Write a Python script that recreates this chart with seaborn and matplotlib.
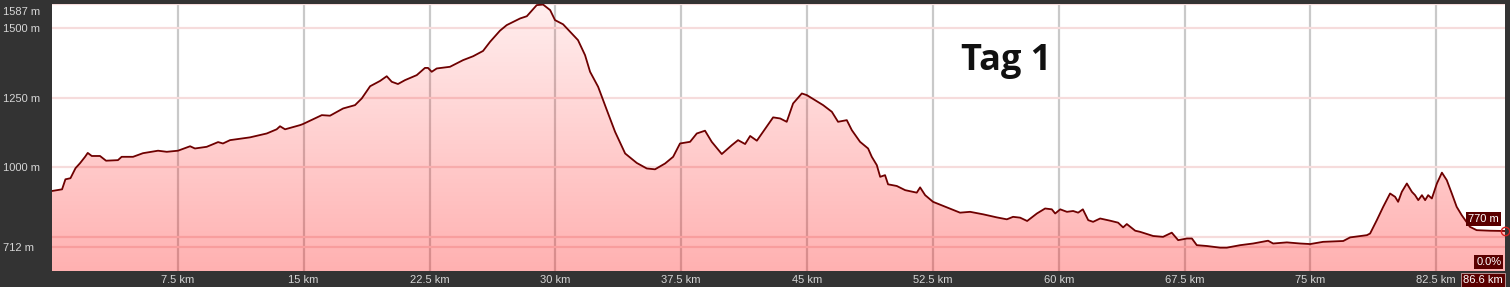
import numpy as np
import pandas as pd
import matplotlib
matplotlib.use("Agg")
import matplotlib.pyplot as plt
import matplotlib.transforms as mtransforms
import seaborn as sns

# ---------------- data ----------------
dist_km = [0.0, 0.6, 0.8, 1.1, 1.4, 1.67, 1.97, 2.13, 2.37, 2.86, 3.22, 3.93, 4.15, 4.83,
           5.42, 6.32, 6.84, 7.51, 8.23, 8.52, 9.22, 9.90, 10.19, 10.61, 11.80, 12.80,
           13.39, 13.59, 13.89, 14.78, 14.96, 16.08, 16.57, 17.35, 18.06, 18.46, 18.96,
           19.55, 19.95, 20.25, 20.62, 21.04, 21.74, 22.23, 22.41, 22.63, 22.93, 23.72,
           24.50, 25.10, 25.69, 26.11, 26.70, 27.10, 27.90, 28.30, 28.89, 29.27, 29.69,
           29.98, 30.46, 30.88, 31.35, 31.77, 32.07, 32.55, 33.07, 33.56, 34.16, 34.85,
           35.45, 35.94, 36.54, 37.02, 37.43, 38.03, 38.43, 38.92, 39.32, 39.92, 40.52,
           40.89, 41.31, 41.61, 42.01, 42.38, 42.98, 43.40, 43.79, 44.17, 44.69, 44.99,
           45.48, 45.96, 46.48, 46.85, 47.37, 47.67, 48.16, 48.64, 48.86, 49.16, 49.36,
           49.65, 49.83, 50.35, 50.85, 51.54, 51.74, 52.04, 52.51, 53.33, 54.12, 54.72,
           55.50, 56.31, 56.91, 57.28, 57.70, 58.12, 58.70, 59.19, 59.59, 59.79, 60.09,
           60.49, 60.86, 61.16, 61.44, 61.76, 62.05, 62.47, 63.07, 63.54, 63.84, 64.06,
           64.56, 64.85, 65.63, 66.22, 66.74, 67.12, 67.64, 67.94, 68.23, 68.83, 69.62,
           70.02, 70.82, 71.59, 72.48, 72.78, 73.60, 74.39, 74.99, 75.76, 76.96, 77.37,
           78.37, 78.56, 78.96, 79.34, 79.75, 80.05, 80.23, 80.45, 80.75, 81.05, 81.24,
           81.43, 81.65, 81.84, 82.02, 82.24, 82.54, 82.84, 83.13, 83.43, 83.72, 84.02,
           84.51, 84.91, 85.70, 86.6]
elev_m = [914, 920, 956, 960, 996, 1014, 1037, 1051, 1040, 1040, 1023, 1025, 1037, 1037,
          1050, 1059, 1055, 1059, 1075, 1067, 1073, 1090, 1085, 1097, 1107, 1121,
          1136, 1147, 1136, 1151, 1155, 1187, 1185, 1211, 1223, 1247, 1291,
          1310, 1327, 1307, 1299, 1313, 1331, 1357, 1357, 1343, 1355, 1361,
          1385, 1399, 1418, 1451, 1491, 1511, 1535, 1543, 1583, 1585, 1565,
          1529, 1514, 1487, 1457, 1403, 1343, 1289, 1205, 1127, 1049, 1015,
          995, 992, 1013, 1037, 1085, 1091, 1121, 1131, 1091, 1047, 1079,
          1097, 1083, 1112, 1095, 1127, 1179, 1175, 1163, 1229, 1265, 1259,
          1241, 1223, 1199, 1163, 1169, 1133, 1091, 1067, 1037, 1007, 965,
          971, 938, 932, 917, 908, 927, 899, 875, 855, 836, 839,
          830, 819, 812, 821, 818, 806, 833, 851, 848, 833, 848,
          839, 842, 836, 848, 809, 803, 815, 807, 800, 783, 795,
          771, 767, 752, 749, 764, 737, 743, 743, 719, 716, 710,
          710, 719, 725, 735, 725, 729, 725, 723, 731, 734, 747,
          755, 761, 809, 857, 905, 893, 875, 911, 941, 911, 899,
          881, 899, 881, 899, 887, 941, 980, 953, 905, 857, 827,
          785, 773, 771, 770]

x_ticks = [7.5, 15, 22.5, 30, 37.5, 45, 52.5, 60, 67.5, 75, 82.5]
x_tick_labels = ["7.5 km", "15 km", "22.5 km", "30 km", "37.5 km", "45 km",
                 "52.5 km", "60 km", "67.5 km", "75 km", "82.5 km"]
y_ticks = [712, 1000, 1250, 1500, 1587]
y_tick_labels = ["712 m", "1000 m", "1250 m", "1500 m", "1587 m"]
y_minor_grid = [750]
title_text = "Tag 1"
end_elev_label = "770 m"
grade_label = "0.0%"
total_dist_label = "86.6 km"

df = pd.DataFrame({"km": dist_km, "m": elev_m})

# ---------------- figure ----------------
sns.set_style("white")
W, H = 1510, 287
fig = plt.figure(figsize=(W / 100, H / 100), dpi=100)
fig.patch.set_facecolor("#333333")
ax = fig.add_axes([52 / W, 16 / H, 1453 / W, 267 / H])
ax.set_facecolor("white")

ymin, ymax = 626, 1587
xmax = 86.6
ax.set_xlim(0, xmax)
ax.set_ylim(ymin, ymax)

# grid
ax.set_axisbelow(True)
ax.set_xticks(x_ticks)
ax.set_xticklabels(x_tick_labels)
ax.set_yticks(y_ticks)
ax.set_yticklabels(y_tick_labels)
ax.set_yticks(y_minor_grid, minor=True)
ax.grid(False)
ax.xaxis.grid(True, color="#c9c9c9", linewidth=1.6, zorder=0)
ax.yaxis.grid(True, which="both", color="#f6dcdc", linewidth=1.6, zorder=0)

# gradient fill under the profile
poly = ax.fill_between(df["km"], df["m"], ymin, facecolor="none", edgecolor="none")
n = 256
alpha = np.linspace(0.07, 0.31, n)[:, None]
rgba = np.zeros((n, 1, 4))
rgba[..., 0] = 1.0
rgba[..., 1] = 0.0
rgba[..., 2] = 0.0
rgba[..., 3] = alpha
im = ax.imshow(rgba, extent=[0, xmax, ymin, ymax], origin="upper", aspect="auto",
               interpolation="bilinear", zorder=1)
im.set_clip_path(poly.get_paths()[0], transform=ax.transData)

# profile line
sns.lineplot(data=df, x="km", y="m", ax=ax, color="#6e0000", linewidth=1.3,
             zorder=3, sort=False)
ax.set_xlabel("")
ax.set_ylabel("")

# end marker
ax.plot([df["km"].iloc[-1]], [df["m"].iloc[-1]], marker="o", ms=6, mfc="none",
        mec="#d42020", mew=1.0, clip_on=False, zorder=4)

# ticks
for s in ax.spines.values():
    s.set_visible(False)
ax.tick_params(axis="both", which="both", length=0, colors="#d6d6d6", labelsize=8)
ax.tick_params(axis="x", pad=3)
ax.tick_params(axis="y", pad=35.5)
for lab in ax.get_xticklabels() + ax.get_yticklabels():
    lab.set_family("Liberation Sans")
for lab in ax.get_yticklabels():
    lab.set_horizontalalignment("left")
    if lab.get_text() == "1587 m":
        lab.set_transform(lab.get_transform() +
                          mtransforms.ScaledTranslation(0, -7 / 100, fig.dpi_scale_trans))

# annotations
ax.annotate(end_elev_label, xy=(df["km"].iloc[-1], df["m"].iloc[-1]),
            xytext=(-6, 12), textcoords="offset pixels", ha="right", va="center",
            fontsize=8, color="white", family="Liberation Sans", zorder=5,
            bbox=dict(boxstyle="square,pad=0.18", fc="#5a0000", ec="none"))
ax.text(0.9975, 0.034, grade_label, transform=ax.transAxes, ha="right", va="center",
        fontsize=8, color="white", family="Liberation Sans", zorder=5,
        bbox=dict(boxstyle="square,pad=0.18", fc="#5a0000", ec="none"))
ax.text(0.9985, -0.034, total_dist_label, transform=ax.transAxes, ha="right",
        va="center", fontsize=8, color="white", family="Liberation Sans", zorder=5,
        clip_on=False,
        bbox=dict(boxstyle="square,pad=0.18", fc="#5a0000", ec="#b89090", lw=0.7))

ax.text(0.657, 0.753, title_text, transform=ax.transAxes, ha="center", va="baseline",
        fontsize=26, fontweight="bold", family="Open Sans", color="#111111", zorder=5)

fig.savefig("out.png", dpi=100, facecolor=fig.get_facecolor())
